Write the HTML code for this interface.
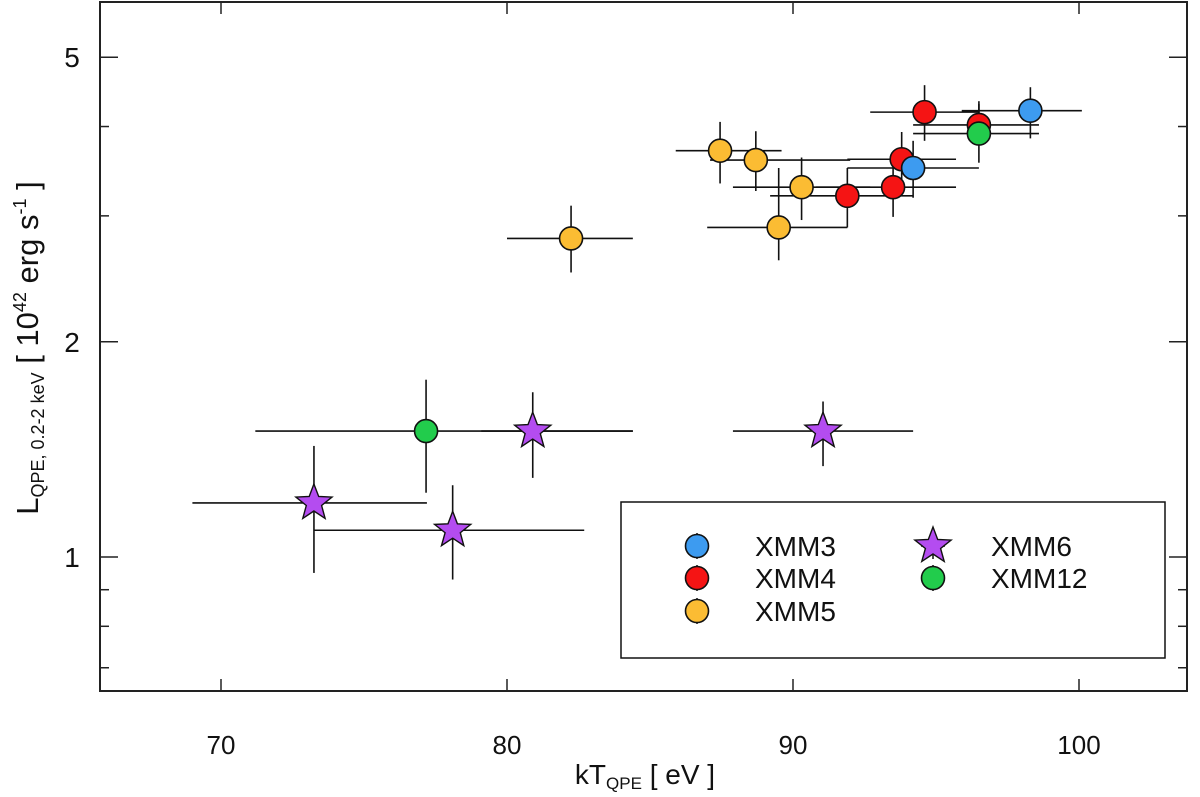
<!DOCTYPE html>
<html><head><meta charset="utf-8"><style>
html,body{margin:0;padding:0;background:#fff;}
svg{display:block;font-family:"Liberation Sans",sans-serif;}
</style></head><body>
<svg id="chart" width="1200" height="797" viewBox="0 0 1200 797" xmlns="http://www.w3.org/2000/svg"></svg>
<script>
// data arrays
const xTicks=[70,80,90,100];
const yMajor=[1,2,5];
const yMinor=[0.7,0.8,0.9,3,4];
const x3=[98.3,94.2], y3=[4.21,3.50], x3lo=[95.9,91.9], x3hi=[100.1,96.5], y3lo=[3.85,3.18], y3hi=[4.54,3.82];
const x4=[94.6,96.5,93.8,93.5,91.9], y4=[4.19,4.02,3.60,3.29,3.20];
const x4lo=[92.7,94.2,91.9,90.8,89.2], x4hi=[96.5,98.6,95.7,95.7,94.2];
const y4lo=[3.82,3.80,3.32,2.99,2.89], y4hi=[4.57,4.34,3.93,3.56,3.50];
const x5=[87.45,88.7,90.3,89.5,82.24], y5=[3.70,3.59,3.29,2.89,2.79];
const x5lo=[85.9,87.1,87.9,87.0,80.0], x5hi=[89.6,92.0,92.7,91.9,84.4];
const y5lo=[3.33,3.25,2.96,2.60,2.50], y5hi=[4.06,3.94,3.62,3.50,3.10];
const x6=[80.9,91.05,73.25,78.1], y6=[1.50,1.50,1.19,1.09];
const x6lo=[79.1,87.9,69.0,73.25], x6hi=[84.4,94.2,77.2,82.7];
const y6lo=[1.29,1.34,0.95,0.93], y6hi=[1.70,1.65,1.43,1.26];
const x12=[77.17,96.5], y12=[1.50,3.91], x12lo=[71.2,94.2], x12hi=[84.4,98.6], y12lo=[1.23,3.56], y12hi=[1.77,4.30];

const svg=document.getElementById('chart');
const NS='http://www.w3.org/2000/svg';
const L=100,R=1187,T=2,B=691;
function X(v){return 793+28.6*(v-90);}
function Y(v){return 557-715*Math.log10(v);}
function mk(tag,attrs,parent){const e=document.createElementNS(NS,tag);for(const k in attrs)e.setAttribute(k,attrs[k]);(parent||svg).appendChild(e);return e;}

const frame=mk('rect',{x:L,y:T,width:R-L,height:B-T,fill:'none',stroke:'#222','stroke-width':2});



xTicks.forEach(v=>{
  const t=mk('line',{x1:X(v),x2:X(v),y1:B,y2:B-12,stroke:'#222','stroke-width':1.5});
  
  
  mk('line',{x1:X(v),x2:X(v),y1:T,y2:T+12,stroke:'#222','stroke-width':1.5});
  const l=mk('text',{x:X(v),y:B+63,'font-size':26,'text-anchor':'middle',fill:'#111'});
  l.textContent=v;
  
  
});
yMajor.forEach(v=>{
  const t=mk('line',{x1:L,x2:L+18,y1:Y(v),y2:Y(v),stroke:'#222','stroke-width':1.5});
  
  
  mk('line',{x1:R,x2:R-18,y1:Y(v),y2:Y(v),stroke:'#222','stroke-width':1.5});
  const l=mk('text',{x:L-28,y:Y(v)+10,'font-size':28,'text-anchor':'middle',fill:'#111'});
  l.textContent=v;
  
  
});
yMinor.forEach(v=>{
  const t=mk('line',{x1:L,x2:L+9,y1:Y(v),y2:Y(v),stroke:'#222','stroke-width':1.5});
  
  
  mk('line',{x1:R,x2:R-9,y1:Y(v),y2:Y(v),stroke:'#222','stroke-width':1.5});
});

function errs(xs,ys,xlo,xhi,ylo,yhi){
  for(let i=0;i<xs.length;i++){
    const h=mk('line',{x1:X(xlo[i]),x2:X(xhi[i]),y1:Y(ys[i]),y2:Y(ys[i]),stroke:'#111','stroke-width':1.6});
    
    
    const v=mk('line',{x1:X(xs[i]),x2:X(xs[i]),y1:Y(ylo[i]),y2:Y(yhi[i]),stroke:'#111','stroke-width':1.6});
    
    
  }
}
function starPts(cx,cy,ro,ri){let p=[];for(let k=0;k<10;k++){const r=k%2?ri:ro;const a=-Math.PI/2+k*Math.PI/5;p.push((cx+r*Math.cos(a)).toFixed(1)+','+(cy+r*Math.sin(a)).toFixed(1));}return p.join(' ');}
function circ(cx,cy,col,name){const c=mk('circle',{cx:cx,cy:cy,r:11.5,fill:col,stroke:'#111','stroke-width':1.6});return c;}
function star(cx,cy,name){const s=mk('polygon',{points:starPts(cx,cy,19,8),fill:'#b44cf0',stroke:'#111','stroke-width':1.4});return s;}

errs(x6,y6,x6lo,x6hi,y6lo,y6hi);
errs(x12,y12,x12lo,x12hi,y12lo,y12hi);
errs(x5,y5,x5lo,x5hi,y5lo,y5hi);
errs(x4,y4,x4lo,x4hi,y4lo,y4hi);
errs(x3,y3,x3lo,x3hi,y3lo,y3hi);
x5.forEach((v,i)=>circ(X(v),Y(y5[i]),'#fbbc33','point-xmm5'));
x4.forEach((v,i)=>circ(X(v),Y(y4[i]),'#f51414','point-xmm4'));
x3.forEach((v,i)=>circ(X(v),Y(y3[i]),'#3d9bf0','point-xmm3'));
x12.forEach((v,i)=>circ(X(v),Y(y12[i]),'#22cc4c','point-xmm12'));
x6.forEach((v,i)=>star(X(v),Y(y6[i]),'point-xmm6'));

// legend
const lg=mk('g',{});


mk('rect',{x:621,y:502,width:544,height:156,fill:'#fff',stroke:'#111','stroke-width':1.5},lg);
function lgMark(cx,cy){mk('line',{x1:cx-12,x2:cx+12,y1:cy,y2:cy,stroke:'#111','stroke-width':1.5},lg);mk('line',{x1:cx,x2:cx,y1:cy-13,y2:cy+13,stroke:'#111','stroke-width':1.5},lg);}
const entries=[['XMM3','#3d9bf0',697,546,'c'],['XMM4','#f51414',697,578,'c'],['XMM5','#fbbc33',697,611,'c'],['XMM6','',933,546,'s'],['XMM12','#22cc4c',933,578,'c']];
entries.forEach(e=>{
  lgMark(e[2],e[3]);
  let m;
  if(e[4]==='c'){m=mk('circle',{cx:e[2],cy:e[3],r:11.5,fill:e[1],stroke:'#111','stroke-width':1.6},lg);}
  else{m=mk('polygon',{points:starPts(e[2],e[3],19,8),fill:'#b44cf0',stroke:'#111','stroke-width':1.4},lg);}
  
  
  const t=mk('text',{x:e[2]+58,y:e[3]+10,'font-size':28,fill:'#111'},lg);
  t.textContent=e[0];
  
  
});
</script>
<svg style="position:absolute;left:0;top:0" width="1200" height="797">
<text x="645" y="784" text-anchor="middle" font-family="Liberation Sans, sans-serif" font-size="28" fill="#111">kT<tspan font-size="17" dy="5">QPE</tspan><tspan dy="-5"> [ eV ]</tspan></text>
<text transform="translate(38,348) rotate(-90)" text-anchor="middle" font-family="Liberation Sans, sans-serif" font-size="31" fill="#111">L<tspan font-size="18" dy="6">QPE, 0.2-2 keV</tspan><tspan dy="-6"> [ 10</tspan><tspan font-size="18" dy="-12">42</tspan><tspan dy="12"> erg s</tspan><tspan font-size="18" dy="-12">-1</tspan><tspan dy="12"> ]</tspan></text>
</svg>
</body></html>
